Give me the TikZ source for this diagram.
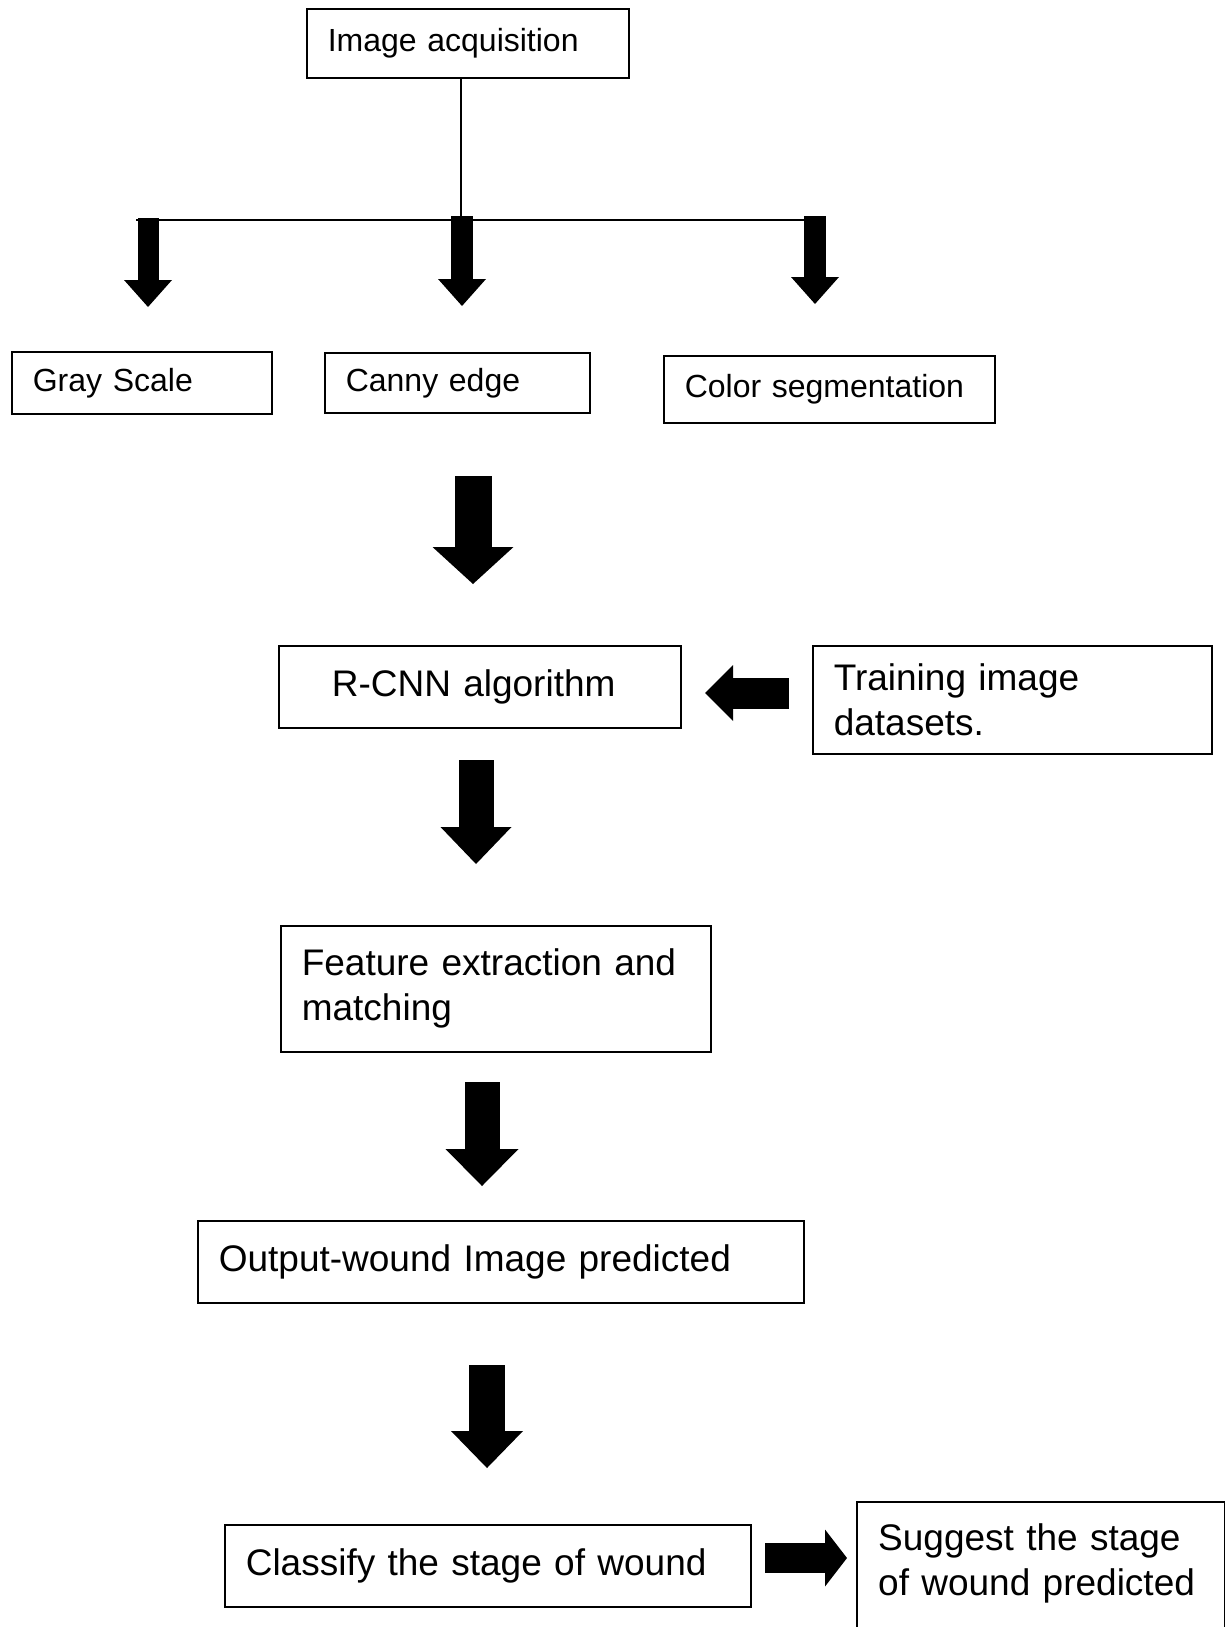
\documentclass[tikz,border=0pt]{standalone}
\usepackage{fontspec}
\setmainfont{Liberation Sans}
\usetikzlibrary{arrows.meta}

\tikzset{
  box/.style={draw, line width=1.6pt, anchor=north west, align=left, inner xsep=21pt, inner ysep=0pt},
  small/.style={font=\fontsize{32}{38}\selectfont},
  big/.style={font=\fontsize{37}{45}\selectfont},
  blk/.style n args={3}{line width=#1, -{Triangle[width=#2, length=#3, line width=0pt]}},
  thinline/.style={line width=2.2pt},
}

\begin{document}
\begin{tikzpicture}[x=1pt,y=-1pt]
\useasboundingbox (0,0) rectangle (1226,1627);

\node[box,small,text width=280pt,minimum height=69pt] (acq) at (306,8) {Image acquisition};
\node[box,small,text width=218pt,minimum height=62pt] (gray) at (11,351) {Gray Scale};
\node[box,small,text width=223pt,minimum height=60pt] (canny) at (324,352) {Canny edge};
\node[box,small,text width=289pt,minimum height=67pt] (color) at (663,355) {Color segmentation};
\node[box,big,text width=360pt,minimum height=82pt] (rcnn) at (278,645) {\hspace*{32pt}R-CNN algorithm};
\node[box,big,text width=357pt,minimum height=108pt] (train) at (812,645) {Training image\\datasets.};
\node[box,big,text width=388pt,minimum height=126pt] (feat) at (280,925) {Feature extraction and\\matching};
\node[box,big,text width=564pt,minimum height=82pt] (out) at (197,1220) {Output-wound Image predicted};
\node[box,big,text width=484pt,minimum height=82pt] (cls) at (224,1524) {Classify the stage of wound};
\node[anchor=north west,big,align=left,inner xsep=21pt,inner ysep=21pt,text width=325pt] (sugg) at (857,1502) {Suggest the stage\\of wound predicted};
\draw[line width=1.6pt] (sugg.north west) rectangle (sugg.east |- 0,1640);

\coordinate (split) at (461,220);
\coordinate (splitL) at (136,220);
\coordinate (splitR) at (815,220);
\draw[thinline] (acq.south -| split) -- (split);
\draw[thinline] (splitL) -- (splitR);

\coordinate (g1) at (148,218);  \coordinate (g2) at (148,307);
\coordinate (c1) at (462,216);  \coordinate (c2) at (462,306);
\coordinate (s1) at (815,216);  \coordinate (s2) at (815,304);
\draw[blk={21pt}{48pt}{27pt}] (g1) -- (g2);
\draw[blk={22pt}{48pt}{27pt}] (c1) -- (c2);
\draw[blk={22pt}{48pt}{27pt}] (s1) -- (s2);

\coordinate (r1) at (473,476);  \coordinate (r2) at (473,584);
\coordinate (f1) at (476,760);  \coordinate (f2) at (476,864);
\coordinate (o1) at (482,1082); \coordinate (o2) at (482,1186);
\coordinate (k1) at (487,1365); \coordinate (k2) at (487,1468);
\draw[blk={37pt}{81pt}{37pt}] (r1) -- (r2);
\draw[blk={35pt}{71pt}{37pt}] (f1) -- (f2);
\draw[blk={35pt}{73pt}{37pt}] (o1) -- (o2);
\draw[blk={36pt}{72pt}{37pt}] (k1) -- (k2);

\coordinate (t1) at (789,693);  \coordinate (t2) at (705,693);
\coordinate (p1) at (765,1558); \coordinate (p2) at (847,1558);
\draw[blk={31pt}{56pt}{28pt}] (t1) -- (t2);
\draw[blk={30pt}{57pt}{22pt}] (p1) -- (p2);
\end{tikzpicture}
\end{document}
